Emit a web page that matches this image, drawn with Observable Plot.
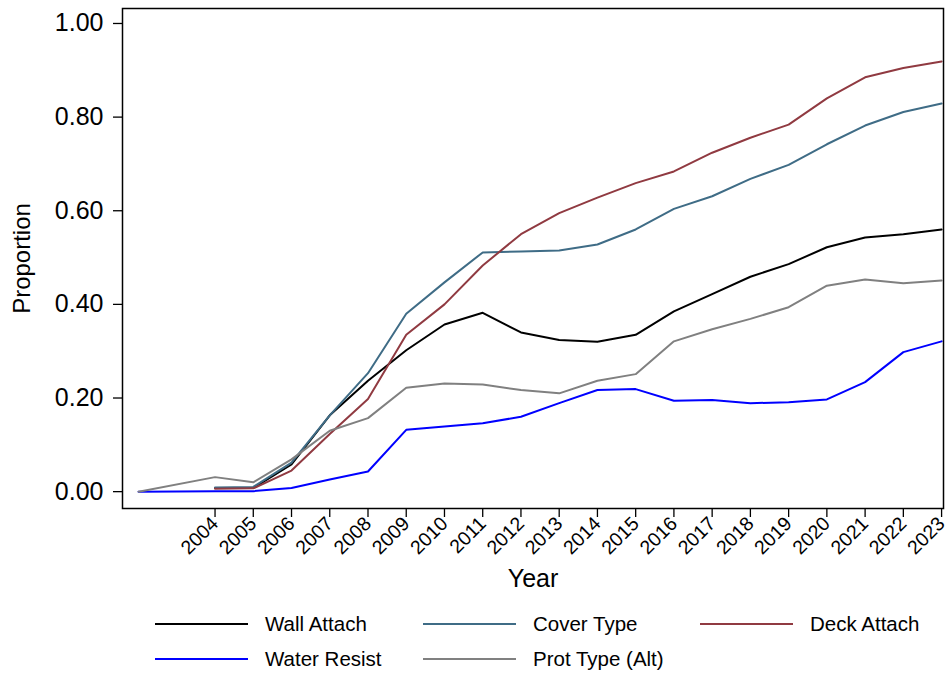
<!DOCTYPE html>
<html>
<head>
<meta charset="utf-8">
<script src="https://cdn.jsdelivr.net/npm/d3@7"></script>
<script src="https://cdn.jsdelivr.net/npm/@observablehq/plot@0.6"></script>
<style>
  html, body { margin: 0; padding: 0; background: #fff; }
  body { width: 948px; height: 673px; overflow: hidden; font-family: "Liberation Sans", Arial, sans-serif; }
  #legend {
    display: grid;
    grid-template-columns: 268px 277px auto;
    grid-auto-rows: 35px;
    padding-left: 155px;
    margin-top: 6px;
    font-size: 20.5px;
    color: #000;
  }
  .item { display: flex; align-items: center; }
  .swatch { width: 93px; height: 0; border-top: 2px solid; margin-right: 17px; }
</style>
</head>
<body>
<div id="chart"></div>
<div id="legend"></div>
<script>
// Survey years
const years = [2002, 2003, 2004, 2005, 2006, 2007, 2008, 2009, 2010, 2011, 2012,
               2013, 2014, 2015, 2016, 2017, 2018, 2019, 2020, 2021, 2022, 2023];

// Proportion of records with each attribute, per year (null = not recorded)
const wallAttach  = [null, null, 0.008, 0.008, 0.058, 0.163, 0.237, 0.302, 0.357, 0.382, 0.340,
                     0.324, 0.320, 0.335, 0.385, 0.422, 0.459, 0.486, 0.522, 0.543, 0.550, 0.560];
const coverType   = [null, null, 0.009, 0.010, 0.062, 0.163, 0.253, 0.380, 0.447, 0.511, 0.513,
                     0.515, 0.528, 0.560, 0.604, 0.631, 0.668, 0.698, 0.742, 0.782, 0.811, 0.829];
const deckAttach  = [null, null, 0.006, 0.007, 0.045, 0.123, 0.198, 0.335, 0.400, 0.483, 0.550,
                     0.595, 0.628, 0.659, 0.684, 0.724, 0.756, 0.784, 0.840, 0.885, 0.905, 0.919];
const waterResist = [0.000, null, 0.001, 0.001, 0.008, 0.026, 0.043, 0.132, 0.139, 0.146, 0.160,
                     0.189, 0.217, 0.219, 0.194, 0.196, 0.189, 0.191, 0.197, 0.234, 0.298, 0.321];
const protTypeAlt = [0.000, null, 0.031, 0.020, 0.069, 0.130, 0.157, 0.222, 0.231, 0.229, 0.217,
                     0.210, 0.237, 0.251, 0.321, 0.347, 0.369, 0.394, 0.440, 0.453, 0.445, 0.451];

const seriesNames  = ["Wall Attach", "Cover Type", "Deck Attach", "Water Resist", "Prot Type (Alt)"];
const seriesValues = [wallAttach, coverType, deckAttach, waterResist, protTypeAlt];
const seriesColors = ["#000000", "#3f6c86", "#903a41", "#0000ff", "#808080"];

const xTicks = d3.range(2004, 2024);
const yTicks = [0, 0.2, 0.4, 0.6, 0.8, 1.0];

// Long-format table; years without a value are left out so each line stays continuous
const rows = seriesNames.flatMap((name, i) =>
  years.map((year, j) => ({series: name, year, value: seriesValues[i][j]}))
       .filter(d => d.value != null)
);

const font = "'Liberation Sans', Arial, sans-serif";

const chart = Plot.plot({
  width: 948,
  height: 600,
  marginLeft: 122,
  marginRight: 5,
  marginTop: 8,
  marginBottom: 92,
  style: {fontFamily: font, color: "#000", background: "#fff", overflow: "visible"},
  x: {domain: [2001.58, 2023.05], ticks: xTicks, tickFormat: d => String(d)},
  y: {domain: [-0.036, 1.032], ticks: yTicks, tickFormat: d3.format(".2f")},
  color: {domain: seriesNames, range: seriesColors},
  marks: [
    Plot.axisY({ticks: yTicks, tickFormat: d3.format(".2f"), tickSize: 9, tickPadding: 10,
                fontSize: 25, strokeWidth: 1.3, label: null}),
    Plot.axisX({ticks: xTicks, tickFormat: d => String(d), tickSize: 9, tickPadding: 3,
                tickRotate: -45, fontSize: 19.5, strokeWidth: 1.3, label: null}),
    Plot.text(["Year"], {frameAnchor: "bottom", dy: 78, fontSize: 25, text: d => d}),
    Plot.text(["Proportion"], {frameAnchor: "left", dx: -100, rotate: -90, textAnchor: "middle",
                               fontSize: 24, text: d => d}),
    Plot.line(rows, {x: "year", y: "value", z: "series", stroke: "series",
                     strokeWidth: 2, strokeLinejoin: "round"}),
    Plot.frame({stroke: "#000", strokeWidth: 1.5})
  ]
});
document.getElementById("chart").append(chart);

// Legend beneath the plot, two rows of three
const legend = d3.select("#legend");
seriesNames.forEach((name, i) => {
  const item = legend.append("div").attr("class", "item");
  item.append("div").attr("class", "swatch").style("border-top-color", seriesColors[i]);
  item.append("span").text(name);
});
</script>
</body>
</html>
